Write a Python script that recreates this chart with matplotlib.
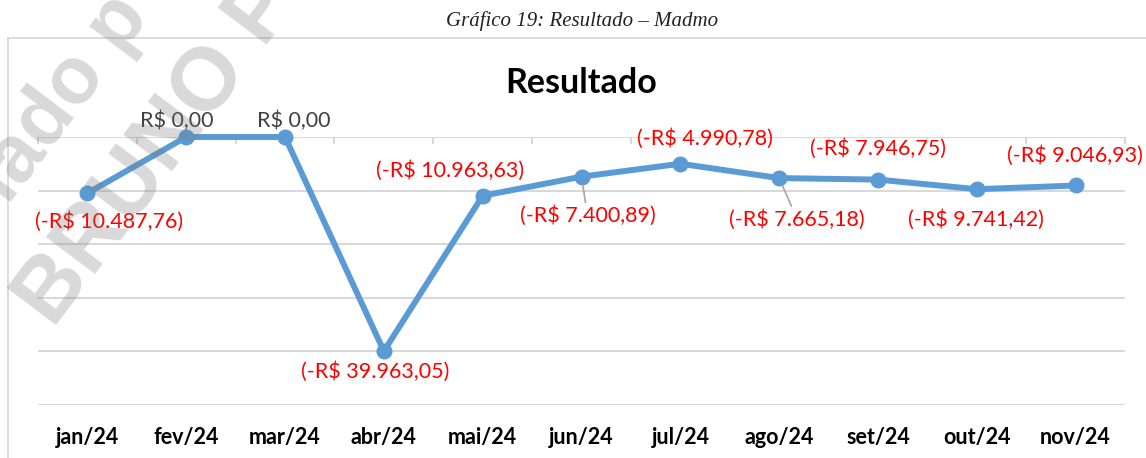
import matplotlib.pyplot as plt
from matplotlib.lines import Line2D
import numpy as np

# Data
months = ['jan/24', 'fev/24', 'mar/24', 'abr/24', 'mai/24', 'jun/24',
          'jul/24', 'ago/24', 'set/24', 'out/24', 'nov/24']
resultado = [-10487.76, 0.00, 0.00, -39963.05, -10963.63, -7400.89,
             -4990.78, -7665.18, -7946.75, -9741.42, -9046.93]

# label offsets in pixels (dx, dy) relative to each point
label_offsets = [(22, -28), (-9, 16), (9, 16), (-9, -20), (-33, 25), (6, -39),
                 (25, 25), (18, -41), (0, 31), (-1, -30), (-1, 30)]
leader = [False, False, False, False, False, True, False, True, False, False, False]


def brl(v):
    s = f'{abs(v):,.2f}'.replace(',', 'X').replace('.', ',').replace('X', '.')
    if v < 0:
        return f'(-R$ {s})'
    return f'R$ {s}'


plt.rcParams['font.family'] = ['Lato', 'DejaVu Sans']

fig = plt.figure(figsize=(11.46, 4.58), dpi=100)
W, H = 1146, 458

# chart border (top and left edges only are visible)
fig.add_artist(Line2D([8 / W, 1], [1 - 38 / H, 1 - 38 / H], transform=fig.transFigure,
                      color='#D9D9D9', linewidth=1.3))
fig.add_artist(Line2D([8 / W, 8 / W], [0, 1 - 38 / H], transform=fig.transFigure,
                      color='#D9D9D9', linewidth=1.3))

# caption above the chart
fig.text(582 / W, 1 - 21 / H, 'Gráfico 19: Resultado – Madmo', ha='center', va='center',
         fontsize=15, style='italic', family='Liberation Serif', color='#222222')

ax = fig.add_axes([38 / W, 1 - 405 / H, (1125 - 38) / W, (405 - 137) / H])
x = np.arange(len(months))

ax.plot(x, resultado, color='#5B9BD5', linewidth=4.3, marker='o', markersize=10.5,
        solid_capstyle='round', clip_on=False, zorder=3)

ax.set_xlim(-0.5, len(months) - 0.5)
ax.set_ylim(-50000, 0)
ax.set_yticks(np.arange(-50000, 1, 10000))
ax.yaxis.grid(True, color='#D9D9D9', linewidth=1.5)
ax.set_axisbelow(True)
ax.tick_params(axis='y', length=0, labelleft=False)
for s in ax.spines.values():
    s.set_visible(False)

ax.set_xticks(x)
ax.set_xticklabels(months, fontweight='bold', fontsize=15.5, color='black')
ax.tick_params(axis='x', length=0, pad=16)

# category tick marks on the zero line
bounds = np.arange(len(months) + 1) - 0.5
ax.vlines(bounds, -1300, 0, color='#D9D9D9', linewidth=1.5, zorder=1, clip_on=False)

for i, v in enumerate(resultado):
    dx, dy = label_offsets[i]
    col = 'red' if v < 0 else '#404040'
    arrow = dict(arrowstyle='-', color='#A6A6A6', lw=1.2, shrinkA=0, shrinkB=6) if leader[i] else None
    ax.annotate(brl(v), (i, v), xytext=(dx * 0.72, dy * 0.72), textcoords='offset points',
                ha='center', va='center', fontsize=15.5, color=col,
                arrowprops=arrow, annotation_clip=False, zorder=4)

fig.text(581 / W, 1 - 83 / H, 'Resultado', ha='center', va='center',
         fontsize=24.5, fontweight='bold', color='black')

# faint watermark in the top-left corner
fig.text(151 / W, 1 - 17 / H, 'Licenciado p', rotation=53, fontsize=58, fontweight='bold',
         color='#777777', alpha=0.28, ha='right', va='baseline', family='Liberation Sans',
         rotation_mode='anchor', zorder=10)
fig.text(53 / W, 1 - 329 / H, 'BRUNO P', rotation=53, fontsize=64, fontweight='bold',
         color='#777777', alpha=0.28, ha='left', va='baseline', family='Liberation Sans',
         rotation_mode='anchor', zorder=10)

plt.savefig('out.png', dpi=100)
